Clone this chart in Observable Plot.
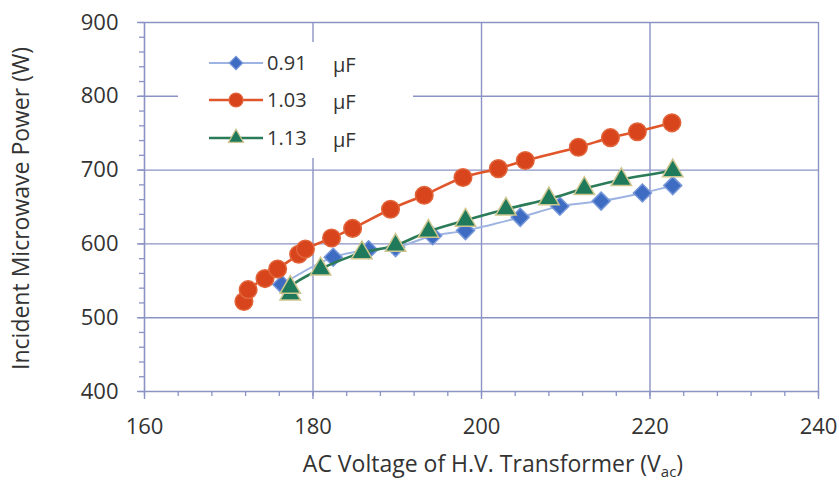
<!DOCTYPE html>
<html><head><meta charset="utf-8">
<script src="https://cdn.jsdelivr.net/npm/d3@7"></script>
<script src="https://cdn.jsdelivr.net/npm/@observablehq/plot@0.6"></script>
<style>
body{margin:0;background:#fff}
#chart svg{font-family:"Open Sans",sans-serif}
</style>
</head><body><div id="chart"></div>
<script>
// ---- data ----
const seriesNames = ["0.91", "1.03", "1.13"];
const unitLabel = "µF";
const voltage091 = [176.3, 182.4, 186.6, 189.8, 194.2, 198.1, 204.6, 209.3, 214.2, 219.1, 222.7];
const power091   = [545, 582, 592, 595, 611, 618, 636, 651, 658, 669, 679];
const voltage103 = [171.8, 172.3, 174.3, 175.8, 178.3, 179.1, 182.2, 184.7, 189.2, 193.2, 197.8, 202.0, 205.2, 211.5, 215.3, 218.5, 222.6];
const power103   = [522, 538, 553, 566, 586, 593, 608, 621, 647, 666, 690, 702, 713, 731, 744, 752, 764];
const voltage113 = [177.3, 177.3, 180.9, 185.8, 189.8, 193.7, 198.1, 202.9, 208.0, 212.2, 216.6, 222.7];
const power113   = [532, 541, 566, 588, 598, 617, 632, 647, 661, 675, 687, 699];
const xTicks = [160, 180, 200, 220, 240];
const yTicks = [400, 500, 600, 700, 800, 900];
const xMinorStep = 4;
const yMinorStep = 20;
const xTitle = "AC Voltage of H.V. Transformer (V";
const xTitleSub = "ac";
const yTitle = "Incident Microwave Power (W)";

// ---- styles ----
const W = 839, H = 485;
const ML = 144, MR = 21, MT = 22, MB = 94;
const gridColor = "#8b93c4";
const textColor = "#333333";
const styles = [
  {line: "#9db3e2", lw: 2, fill: "#3e6cc2", stroke: "#7596d8", symbol: "diamond2", r: 8.1, lr: 6},
  {line: "#e0562a", lw: 2.6, fill: "#d8451d", stroke: "#e2643a", symbol: "circle", r: 8.8, lr: 7},
  {line: "#2b7b58", lw: 2.6, fill: "#1f7a5b", stroke: "#cdc68f", symbol: "triangle", r: 7.6, lr: 5.6}
];

const tables = [
  voltage091.map((v, i) => ({v, p: power091[i]})),
  voltage103.map((v, i) => ({v, p: power103[i]})),
  voltage113.map((v, i) => ({v, p: power113[i]}))
];
const xMinor = d3.range(xTicks[0], xTicks[xTicks.length - 1] + 0.001, xMinorStep);
const yMinor = d3.range(yTicks[0], yTicks[yTicks.length - 1] + 0.001, yMinorStep);

const seriesMarks = tables.flatMap((t, k) => [
  Plot.line(t, {x: "v", y: "p", curve: "catmull-rom", stroke: styles[k].line, strokeWidth: styles[k].lw}),
  Plot.dot(t, {x: "v", y: "p", symbol: styles[k].symbol, r: styles[k].r, fill: styles[k].fill,
               stroke: styles[k].stroke, strokeWidth: 1.5})
]);

const plot = Plot.plot({
  width: W, height: H,
  marginLeft: ML, marginRight: MR, marginTop: MT, marginBottom: MB,
  style: {fontFamily: "Open Sans", color: textColor, background: "#fff", overflow: "visible"},
  x: {domain: [xTicks[0], xTicks[xTicks.length - 1]]},
  y: {domain: [yTicks[0], yTicks[yTicks.length - 1]]},
  marks: [
    Plot.ruleX(xTicks.slice(1), {stroke: gridColor, strokeWidth: 1.4}),
    Plot.ruleY(yTicks.slice(1), {stroke: gridColor, strokeWidth: 1.4}),
    Plot.axisX({ticks: xMinor, tickSize: 5, text: null, stroke: gridColor, strokeWidth: 1.3, label: null}),
    Plot.axisX({ticks: xTicks, tickSize: 8, tickPadding: 19, stroke: gridColor, strokeWidth: 1.4,
                fill: textColor, fontSize: 22, label: null, tickFormat: d => d}),
    Plot.axisY({ticks: yMinor, tickSize: 5, text: null, stroke: gridColor, strokeWidth: 1.3, label: null}),
    Plot.axisY({ticks: yTicks, tickSize: 7, tickPadding: 19, stroke: gridColor, strokeWidth: 1.4,
                fill: textColor, fontSize: 22, label: null, tickFormat: d => d}),
    Plot.ruleX([xTicks[0]], {stroke: gridColor, strokeWidth: 1.6}),
    Plot.ruleY([yTicks[0]], {stroke: gridColor, strokeWidth: 1.6}),
    ...seriesMarks
  ]
});
document.getElementById("chart").appendChild(plot);

// ---- titles and legend ----
const svg = d3.select(plot);
const sx = plot.scale("x"), sy = plot.scale("y");
const cx = (sx.apply(xTicks[0]) + sx.apply(xTicks[xTicks.length - 1])) / 2;
const cy = (sy.apply(yTicks[0]) + sy.apply(yTicks[yTicks.length - 1])) / 2;

const xt = svg.append("text")
  .attr("x", cx + 12).attr("y", 472)
  .attr("text-anchor", "middle")
  .attr("fill", textColor).attr("font-size", 23);
xt.append("tspan").text(xTitle);
xt.append("tspan").attr("font-size", 15).attr("dy", 5).text(xTitleSub);
xt.append("tspan").attr("dy", -5).text(")");

svg.append("text")
  .attr("transform", `translate(29,${cy + 2}) rotate(-90)`)
  .attr("text-anchor", "middle")
  .attr("fill", textColor).attr("font-size", 23)
  .text(yTitle);

const lg = svg.append("g").attr("text-anchor", "start");
lg.append("rect").attr("x", 178).attr("y", 42).attr("width", 235).attr("height", 116).attr("fill", "#fff");
const rowsY = [63, 100, 138];
seriesNames.forEach((name, k) => {
  const y = rowsY[k], s = styles[k];
  lg.append("line").attr("x1", 209).attr("x2", 263).attr("y1", y).attr("y2", y)
    .attr("stroke", s.line).attr("stroke-width", s.lw);
  const sym = {diamond2: d3.symbolDiamond2, circle: d3.symbolCircle, triangle: d3.symbolTriangle}[s.symbol];
  lg.append("path").attr("transform", `translate(236,${y})`)
    .attr("d", d3.symbol(sym, Math.PI * s.lr * s.lr)())
    .attr("fill", s.fill).attr("stroke", s.stroke).attr("stroke-width", 1.2);
  lg.append("text").attr("x", 267).attr("y", y + 7).attr("fill", textColor).attr("font-size", 20).text(name);
  lg.append("text").attr("x", 333).attr("y", y + 9).attr("fill", textColor).attr("font-size", 20).text(unitLabel);
});
</script>
</body></html>
